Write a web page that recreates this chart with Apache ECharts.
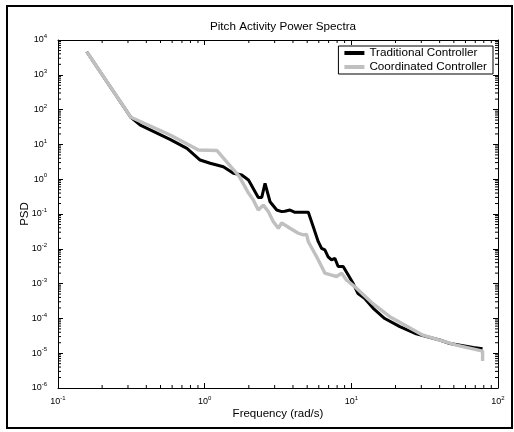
<!DOCTYPE html>
<html>
<head>
<meta charset="utf-8">
<script src="https://cdn.jsdelivr.net/npm/echarts@6/dist/echarts.min.js"></script>
<style>
	html, body { margin: 0; padding: 0; background: #fff; }
	#chart { width: 514px; height: 432px; }
</style>
</head>
<body>
<div id="chart"></div>
<script>
// Traditional controller (black)
var tradFreq = [0.157, 0.314, 0.364, 0.58, 0.757, 0.931, 1.09, 1.34, 1.57, 1.79, 1.99, 2.32, 2.45, 2.58, 2.79, 3.1, 3.35, 3.52, 3.82, 4.13, 5.09, 5.5, 5.95, 6.27, 6.6, 6.95, 7.33, 7.72, 8.13, 8.8, 9.5, 10.3, 11.1, 12.3, 14.1, 16.9, 21.4, 27.7, 40, 47, 68, 78.5];
var tradPsd = [4600, 60, 36, 14, 7.7, 3.56, 2.87, 2.29, 1.48, 1.32, 0.95, 0.30, 0.30, 0.76, 0.225, 0.13, 0.117, 0.12, 0.13, 0.112, 0.112, 0.043, 0.016, 0.0103, 0.0093, 0.0059, 0.0048, 0.0053, 0.0031, 0.0031, 0.0018, 0.001, 0.00052, 0.00038, 0.000195, 0.000099, 0.000058, 0.000036, 0.000024, 0.000019, 0.0000145, 0.0000135];

// Coordinated controller (grey)
var coordFreq = [0.157, 0.314, 0.582, 0.907, 1.21, 1.72, 1.99, 2.15, 2.32, 2.51, 2.72, 2.94, 3.18, 3.35, 3.82, 4.35, 4.70, 4.95, 5.09, 5.8, 6.27, 6.6, 7.14, 7.93, 8.6, 9.25, 10.8, 11.4, 14.1, 18.3, 30.8, 52, 78.5, 78.5];
var coordPsd = [4600, 60, 18.6, 6.9, 6.7, 1.2, 0.4, 0.25, 0.13, 0.18, 0.117, 0.06, 0.039, 0.055, 0.039, 0.028, 0.025, 0.026, 0.016, 0.0059, 0.0031, 0.002, 0.0018, 0.0016, 0.002, 0.00127, 0.00075, 0.0006, 0.00026, 0.000112, 0.000033, 0.000017, 0.0000115, 0.000006];

var seriesNames = ['Traditional Controller', 'Coordinated Controller'];

// axis ranges and decades for minor ticks
var xRange = [0.1, 100];
var yRange = [1e-6, 1e4];
var xDecades = [0.1, 1, 10];
var yDecades = [1e-6, 1e-5, 1e-4, 1e-3, 1e-2, 1e-1, 1, 10, 100, 1000];
var minorSteps = [2, 3, 4, 5, 6, 7, 8, 9];

function pairs(xs, ys) {
	var out = [];
	for (var i = 0; i < xs.length; i++) {
		out.push([xs[i], ys[i]]);
	}
	return out;
}

function minorTicks(decades) {
	var out = [];
	for (var i = 0; i < decades.length; i++) {
		for (var j = 0; j < minorSteps.length; j++) {
			out.push(decades[i] * minorSteps[j]);
		}
	}
	return out;
}

function powLabel(value) {
	var e = Math.round(Math.log(value) / Math.LN10);
	return '{b|10}{e|' + e + '}';
}

var labelRich = {
	b: { fontSize: 9, fontFamily: 'Liberation Sans', color: '#000' },
	e: { fontSize: 6, fontFamily: 'Liberation Sans', color: '#000', padding: [0, 0, 7, 0] }
};

function logAxis(isX, range, pos, primary) {
	return {
		type: 'log',
		logBase: 10,
		min: range[0],
		max: range[1],
		interval: 1,
		position: pos,
		axisLine: { show: true, lineStyle: { color: '#000', width: 1 } },
		axisTick: { show: true, inside: true, length: 5, lineStyle: { color: '#000' } },
		splitLine: { show: false },
		axisLabel: primary ? {
			show: true,
			margin: isX ? 7 : 11,
			formatter: powLabel,
			rich: labelRich
		} : { show: false },
		name: primary ? (isX ? 'Frequency (rad/s)' : 'PSD') : '',
		nameLocation: 'middle',
		nameGap: isX ? 20 : 27,
		nameMoveOverlap: false,
		nameTextStyle: { fontSize: 11.5, fontFamily: 'Liberation Sans', color: '#000' }
	};
}

// minor ticks drawn through the axis scales (log minorTick is linear in ECharts)
function renderMinorX(params, api) {
	var v = api.value(0);
	var b = api.coord([v, yRange[0]]);
	var t = api.coord([v, yRange[1]]);
	return {
		type: 'group',
		children: [{
			type: 'line',
			shape: { x1: b[0], y1: b[1], x2: b[0], y2: b[1] - 3 },
			style: { stroke: '#000', lineWidth: 1 }
		}, {
			type: 'line',
			shape: { x1: t[0], y1: t[1], x2: t[0], y2: t[1] + 3 },
			style: { stroke: '#000', lineWidth: 1 }
		}]
	};
}

function renderMinorY(params, api) {
	var v = api.value(1);
	var l = api.coord([xRange[0], v]);
	var r = api.coord([xRange[1], v]);
	return {
		type: 'group',
		children: [{
			type: 'line',
			shape: { x1: l[0], y1: l[1], x2: l[0] + 3, y2: l[1] },
			style: { stroke: '#000', lineWidth: 1 }
		}, {
			type: 'line',
			shape: { x1: r[0], y1: r[1], x2: r[0] - 3, y2: r[1] },
			style: { stroke: '#000', lineWidth: 1 }
		}]
	};
}

var xMinor = minorTicks(xDecades).map(function(v) { return [v, yRange[0]]; });
var yMinor = minorTicks(yDecades).map(function(v) { return [xRange[0], v]; });

var myChart = echarts.init(document.getElementById('chart'));

var option = {
	animation: false,
	backgroundColor: '#fff',
	title: {
		text: 'Pitch Activity Power Spectra',
		left: 278,
		textAlign: 'center',
		top: 16,
		textStyle: { fontSize: 11.7, fontWeight: 'normal', fontFamily: 'Liberation Sans', color: '#000' }
	},
	legend: {
		orient: 'vertical',
		right: 21,
		top: 46,
		padding: [0, 6, 0, 6],
		itemGap: 0,
		itemWidth: 20,
		itemHeight: 4,
		icon: 'rect',
		borderColor: '#000',
		borderWidth: 1,
		backgroundColor: '#fff',
		textStyle: { fontSize: 11.7, lineHeight: 14, fontFamily: 'Liberation Sans', color: '#000' },
		data: seriesNames
	},
	graphic: [{
		type: 'rect',
		shape: { x: 7, y: 6, width: 505, height: 422 },
		style: { fill: null, stroke: '#000', lineWidth: 2 }
	}],
	grid: {
		left: 58,
		right: 16,
		top: 40,
		bottom: 44
	},
	xAxis: [
		logAxis(true, xRange, 'bottom', true),
		logAxis(true, xRange, 'top', false)
	],
	yAxis: [
		logAxis(false, yRange, 'left', true),
		logAxis(false, yRange, 'right', false)
	],
	series: [{
		type: 'custom',
		silent: true,
		clip: false,
		renderItem: renderMinorX,
		data: xMinor
	}, {
		type: 'custom',
		silent: true,
		clip: false,
		renderItem: renderMinorY,
		data: yMinor
	}, {
		name: seriesNames[0],
		type: 'line',
		showSymbol: false,
		symbol: 'none',
		color: '#000',
		lineStyle: { color: '#000', width: 3 },
		data: pairs(tradFreq, tradPsd)
	}, {
		name: seriesNames[1],
		type: 'line',
		showSymbol: false,
		symbol: 'none',
		color: '#c0c0c0',
		lineStyle: { color: '#c0c0c0', width: 3.4 },
		data: pairs(coordFreq, coordPsd)
	}]
};

myChart.setOption(option);
</script>
</body>
</html>
